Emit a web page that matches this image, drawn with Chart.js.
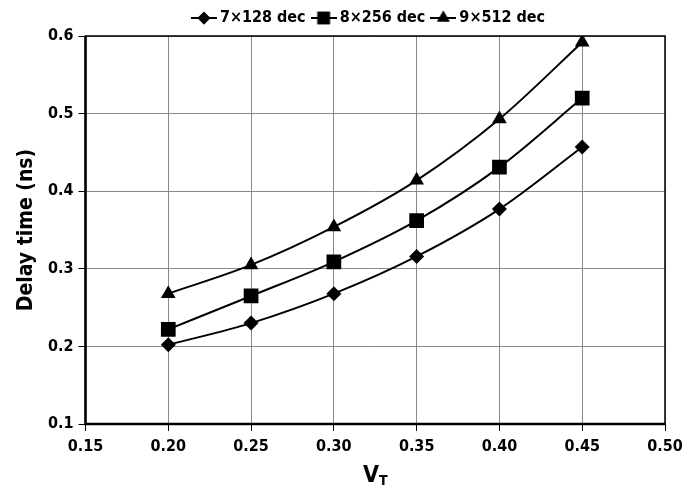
<!DOCTYPE html>
<html><head><meta charset="utf-8">
<script src="https://cdn.jsdelivr.net/npm/chart.js@4/dist/chart.umd.min.js"></script>
<style>html,body{margin:0;padding:0;background:#fff}#w{width:695px;height:489px}</style>
</head><body><div id="w"><canvas id="c" width="695" height="489"></canvas></div>
<script>
const xValues = [0.20, 0.25, 0.30, 0.35, 0.40, 0.45];
const series7x128 = [0.202, 0.230, 0.268, 0.316, 0.377, 0.457];
const series8x256 = [0.222, 0.265, 0.309, 0.362, 0.431, 0.520];
const series9x512 = [0.268, 0.305, 0.354, 0.414, 0.493, 0.592];
const seriesNames = ['7\u00d7128 dec', '8\u00d7256 dec', '9\u00d7512 dec'];
const xTicks = [0.15, 0.20, 0.25, 0.30, 0.35, 0.40, 0.45, 0.50];
const yTicks = [0.1, 0.2, 0.3, 0.4, 0.5, 0.6];

const FONT = "'Liberation Sans Narrow','DejaVu Sans Condensed','Liberation Sans',sans-serif";
const styles = ['rectRot', 'rect', 'triangle'];
const radii = [7.5, 10.4, 8.5];

function legendIcon(style, r) {
  const cv = document.createElement('canvas');
  cv.width = 26; cv.height = 16;
  const ctx = cv.getContext('2d');
  ctx.strokeStyle = '#000'; ctx.lineWidth = 2;
  ctx.beginPath(); ctx.moveTo(0, 8); ctx.lineTo(26, 8); ctx.stroke();
  ctx.fillStyle = '#000';
  Chart.helpers.drawPoint(ctx, {pointStyle: style, radius: r * 0.85, borderWidth: 0}, 13, 8);
  ctx.fill();
  return cv;
}

const dataSets = [series7x128, series8x256, series9x512].map((s, i) => ({
  label: seriesNames[i],
  data: xValues.map((x, j) => ({x: x, y: s[j]})),
  borderColor: '#000',
  backgroundColor: '#000',
  borderWidth: 2,
  pointStyle: styles[i],
  pointRadius: radii[i],
  pointBorderWidth: 0,
  pointBackgroundColor: '#000',
  cubicInterpolationMode: 'monotone',
  fill: false
}));

const frame = {
  id: 'frame',
  afterLayout(chart) {
    const lg = chart.legend;
    if (lg) { lg.left += 38; lg.right += 38; }
  },
  afterDraw(chart) {
    const {ctx, chartArea: a} = chart;
    ctx.save();
    ctx.strokeStyle = '#000'; ctx.lineWidth = 1.5;
    ctx.strokeRect(a.left, a.top, a.right - a.left, a.bottom - a.top);
    ctx.lineWidth = 2.5;
    ctx.beginPath(); ctx.moveTo(a.left, a.top); ctx.lineTo(a.left, a.bottom); ctx.lineTo(a.right, a.bottom); ctx.stroke();
    // x-axis title with subscript
    const cx = (a.left + a.right) / 2;
    ctx.fillStyle = '#000';
    ctx.textBaseline = 'alphabetic';
    ctx.font = "bold 23px " + FONT;
    const wV = ctx.measureText('V').width;
    ctx.font = "bold 14px " + FONT;
    const wT = ctx.measureText('T').width;
    const x0 = cx - (wV + wT) / 2;
    ctx.font = "bold 23px " + FONT;
    ctx.textAlign = 'left';
    ctx.fillText('V', x0, 482);
    ctx.font = "bold 14px " + FONT;
    ctx.fillText('T', x0 + wV, 485);
    ctx.restore();
  }
};

new Chart(document.getElementById('c'), {
  type: 'line',
  data: {datasets: dataSets},
  options: {
    responsive: false,
    animation: false,
    layout: {padding: {left: 0, right: 30, top: 0, bottom: 0}},
    plugins: {
      legend: {
        display: true,
        position: 'top',
        align: 'center',
        labels: {
          usePointStyle: true,
          pointStyleWidth: 16,
          color: '#000',
          font: {family: FONT, size: 16, weight: 'bold'},
          padding: 10,
          boxHeight: 16,
          generateLabels(chart) {
            return chart.data.datasets.map((d, i) => ({
              text: d.label,
              pointStyle: legendIcon(styles[i], radii[i]),
              fillStyle: '#000', strokeStyle: '#000', lineWidth: 0,
              hidden: false, datasetIndex: i, fontColor: '#000'
            }));
          }
        }
      },
      tooltip: {enabled: false}
    },
    scales: {
      x: {
        type: 'linear', min: 0.15, max: 0.50,
        afterBuildTicks(s) { s.ticks = xTicks.map(v => ({value: v})); },
        afterFit(s) { s.height = 65; },
        grid: {color: '#8a8a8a', lineWidth: 1, tickLength: 7, tickColor: '#000'},
        border: {display: false},
        ticks: {color: '#000', font: {family: FONT, size: 16, weight: 'bold'}, padding: 6,
          callback: v => v.toFixed(2), maxRotation: 0}
      },
      y: {
        type: 'linear', min: 0.1, max: 0.6,
        afterBuildTicks(s) { s.ticks = yTicks.map(v => ({value: v})); },
        afterFit(s) { s.width = 85.5; },
        grid: {color: '#8a8a8a', lineWidth: 1, tickLength: 7, tickColor: '#000'},
        border: {display: false},
        title: {display: true, text: 'Delay time (ns)', color: '#000',
          font: {family: FONT, size: 21, weight: 'bold'}, padding: {top: 14, bottom: 0}},
        ticks: {color: '#000', font: {family: FONT, size: 16, weight: 'bold'}, padding: 5,
          callback: v => v.toFixed(1)}
      }
    }
  },
  plugins: [frame]
});
</script></body></html>
